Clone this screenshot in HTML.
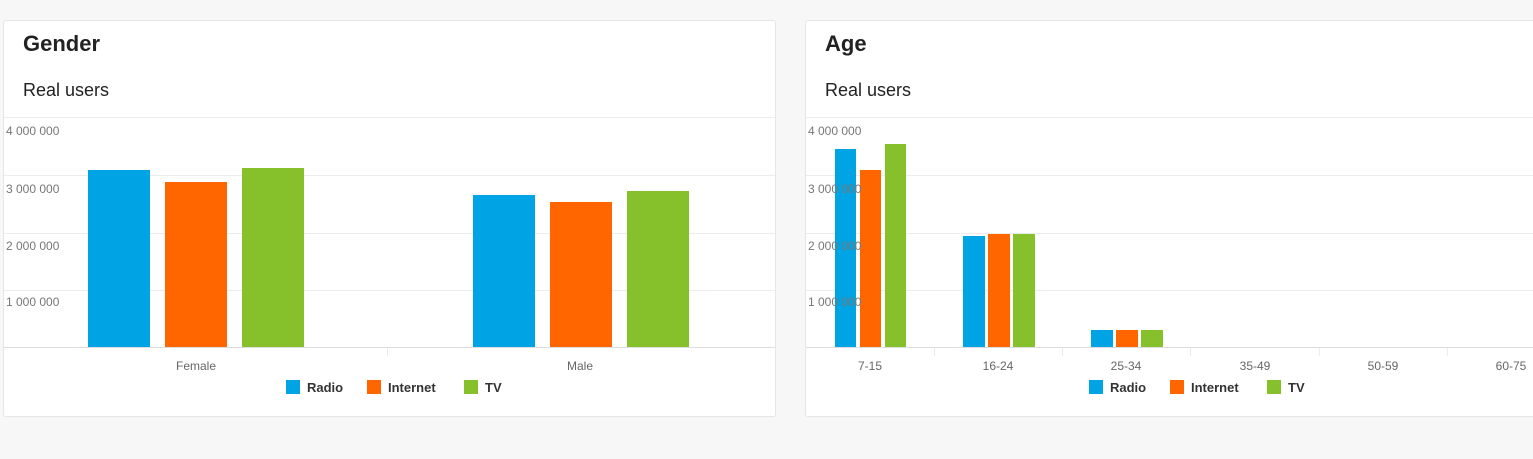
<!DOCTYPE html>
<html><head><style>
body{margin:0;width:1533px;height:459px;background:#f7f7f7;overflow:hidden;font-family:"Liberation Sans",sans-serif;position:relative}
.card{position:absolute;top:20px;height:397px;background:#fff;border:1px solid #e6e6e6;border-radius:3px;box-sizing:border-box}
.t{position:absolute;font-weight:bold;font-size:22px;color:#222}
.s{position:absolute;font-size:18px;color:#222}
</style></head><body>
<div class="card" style="left:3px;width:773px"></div>
<div class="card" style="left:805px;width:740px"></div>
<div class="t" style="left:23px;top:31px">Gender</div>
<div class="s" style="left:23px;top:80px">Real users</div>
<div class="t" style="left:825px;top:31px">Age</div>
<div class="s" style="left:825px;top:80px">Real users</div>
<svg width="1533" height="459" style="position:absolute;left:0;top:0" font-family="Liberation Sans,sans-serif">
<g stroke="#ececec" stroke-width="1">
<line x1="4" x2="775" y1="117.5" y2="117.5"/><line x1="4" x2="775" y1="175.5" y2="175.5"/><line x1="4" x2="775" y1="233.5" y2="233.5"/><line x1="4" x2="775" y1="290.5" y2="290.5"/><line x1="4" x2="775" y1="347.5" y2="347.5" stroke="#ddd"/>
<line x1="806" x2="1533" y1="117.5" y2="117.5"/><line x1="806" x2="1533" y1="175.5" y2="175.5"/><line x1="806" x2="1533" y1="233.5" y2="233.5"/><line x1="806" x2="1533" y1="290.5" y2="290.5"/><line x1="806" x2="1533" y1="347.5" y2="347.5" stroke="#ddd"/>
<line x1="387.5" x2="387.5" y1="348" y2="356"/>
<line x1="934.5" x2="934.5" y1="348" y2="356"/><line x1="1062.5" x2="1062.5" y1="348" y2="356"/><line x1="1190.5" x2="1190.5" y1="348" y2="356"/><line x1="1319.5" x2="1319.5" y1="348" y2="356"/><line x1="1447.5" x2="1447.5" y1="348" y2="356"/>
</g>
<g>
<rect x="88" y="170" width="62" height="177" fill="#00a3e4"/><rect x="165" y="182" width="62" height="165" fill="#ff6600"/><rect x="242" y="168" width="62" height="179" fill="#86c12b"/>
<rect x="473" y="195" width="62" height="152" fill="#00a3e4"/><rect x="550" y="202" width="62" height="145" fill="#ff6600"/><rect x="627" y="191" width="62" height="156" fill="#86c12b"/>
<rect x="835" y="149" width="21" height="198" fill="#00a3e4"/><rect x="860" y="170" width="21" height="177" fill="#ff6600"/><rect x="885" y="144" width="21" height="203" fill="#86c12b"/>
<rect x="963" y="236" width="22" height="111" fill="#00a3e4"/><rect x="988" y="234" width="22" height="113" fill="#ff6600"/><rect x="1013" y="234" width="22" height="113" fill="#86c12b"/>
<rect x="1091" y="330" width="22" height="17" fill="#00a3e4"/><rect x="1116" y="330" width="22" height="17" fill="#ff6600"/><rect x="1141" y="330" width="22" height="17" fill="#86c12b"/>
</g>
<g font-size="12" fill="#777">
<text x="6" y="135">4 000 000</text><text x="6" y="193">3 000 000</text><text x="6" y="250">2 000 000</text><text x="6" y="306">1 000 000</text>
<text x="808" y="135">4 000 000</text><text x="808" y="193">3 000 000</text><text x="808" y="250">2 000 000</text><text x="808" y="306">1 000 000</text>
</g>
<g font-size="12" fill="#666" text-anchor="middle">
<text x="196" y="370">Female</text><text x="580" y="370">Male</text>
<text x="870" y="370">7-15</text><text x="998" y="370">16-24</text><text x="1126" y="370">25-34</text><text x="1255" y="370">35-49</text><text x="1383" y="370">50-59</text><text x="1511" y="370">60-75</text>
</g>
<g font-size="13" font-weight="bold" fill="#333">
<rect x="286" y="380" width="14" height="14" fill="#00a3e4"/><text x="307" y="392">Radio</text>
<rect x="367" y="380" width="14" height="14" fill="#ff6600"/><text x="388" y="392">Internet</text>
<rect x="464" y="380" width="14" height="14" fill="#86c12b"/><text x="485" y="392">TV</text>
<rect x="1089" y="380" width="14" height="14" fill="#00a3e4"/><text x="1110" y="392">Radio</text>
<rect x="1170" y="380" width="14" height="14" fill="#ff6600"/><text x="1191" y="392">Internet</text>
<rect x="1267" y="380" width="14" height="14" fill="#86c12b"/><text x="1288" y="392">TV</text>
</g>
</svg>
</body></html>
